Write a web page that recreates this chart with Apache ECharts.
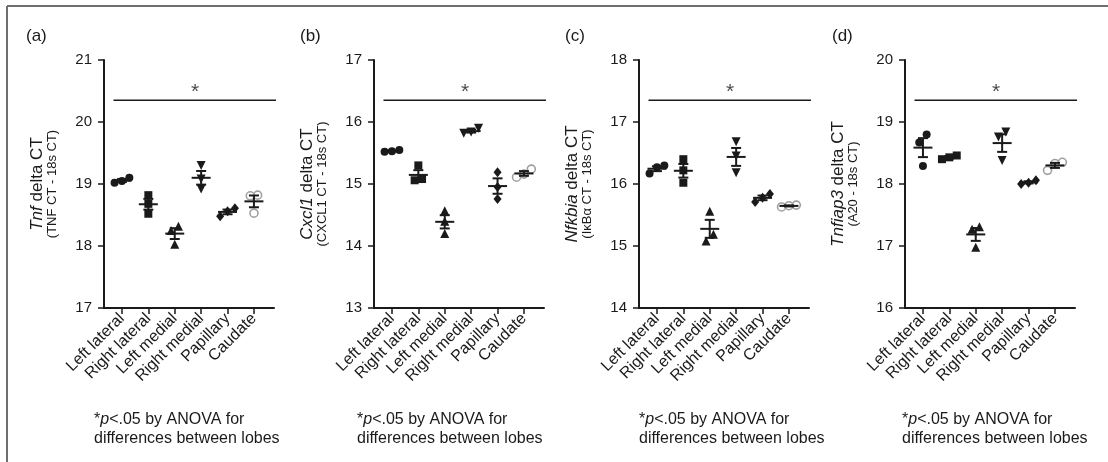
<!DOCTYPE html>
<html>
<head>
<meta charset="utf-8">
<script src="https://cdn.jsdelivr.net/npm/echarts@6/dist/echarts.min.js"></script>
<style>
html,body{margin:0;padding:0;background:#fff;}
#chart{width:1108px;height:462px;}
</style>
</head>
<body>
<div id="chart"></div>
<script>
// ---------- data ----------
const categories = ['Left lateral', 'Right lateral', 'Left medial', 'Right medial', 'Papillary', 'Caudate'];
const panelLabels = ['(a)', '(b)', '(c)', '(d)'];
const geneNames = ['Tnf', 'Cxcl1', 'Nfkbia', 'Tnfiap3'];
const subLabels = ['(TNF CT - 18s CT)', '(CXCL1 CT - 18s CT)', '(I\u03baB\u03b1 CT - 18s CT)', '(A20 - 18s CT)'];
const yMins = [17, 13, 14, 16];
const yMaxs = [21, 17, 18, 20];
const sigLevels = [20.35, 16.35, 17.35, 19.35];

const tnfValues = [
  [19.10, 19.02, 19.05],
  [18.82, 18.68, 18.52],
  [18.32, 18.25, 18.03],
  [19.30, 19.08, 18.92],
  [18.61, 18.56, 18.48],
  [18.82, 18.81, 18.53]
];
const cxcl1Values = [
  [15.55, 15.53, 15.52],
  [15.30, 15.08, 15.06],
  [14.57, 14.40, 14.20],
  [15.90, 15.84, 15.82],
  [15.19, 14.95, 14.76],
  [15.24, 15.16, 15.11]
];
const nfkbiaValues = [
  [16.30, 16.27, 16.17],
  [16.40, 16.22, 16.02],
  [15.56, 15.19, 15.08],
  [16.68, 16.45, 16.18],
  [15.84, 15.78, 15.71],
  [15.66, 15.65, 15.63]
];
const tnfaip3Values = [
  [18.80, 18.67, 18.29],
  [18.46, 18.43, 18.40],
  [17.31, 17.27, 16.98],
  [18.84, 18.76, 18.38],
  [18.06, 18.02, 18.00],
  [18.35, 18.33, 18.22]
];
const footnote = '*{i|p}<.05 by ANOVA for\ndifferences between lobes';

// ---------- layout / style ----------
const panelValues = [tnfValues, cxcl1Values, nfkbiaValues, tnfaip3Values];
const gridLefts = [104, 374, 639, 905];
const gridTop = 60, gridHeight = 248, gridWidth = 170;
const xMin = 0.32, xMax = 6.76;
const FONT = '"Liberation Sans", Arial, sans-serif';
const INK = '#1a1a1a';
const symbols = ['circle', 'rect', 'triangle', 'triangle', 'diamond', 'circle'];
const rotations = [0, 0, 0, 180, 0, 0];
const symbolSizes = [8, 8, 9, 9, [8, 10], 8];
const colors = [INK, INK, INK, INK, INK, '#a0a0a0'];

function mean(a) { return a.reduce((s, v) => s + v, 0) / a.length; }
function sem(a) {
  const m = mean(a);
  const sd = Math.sqrt(a.reduce((s, v) => s + (v - m) * (v - m), 0) / (a.length - 1));
  return sd / Math.sqrt(a.length);
}
// horizontal spreading of points that would overlap (dot-plot layout)
function spread(vals, thr, step) {
  const idx = vals.map((v, i) => i).sort((a, b) => vals[a] - vals[b]);
  const off = new Array(vals.length).fill(0);
  let group = [idx[0]];
  const flush = () => {
    const n = group.length;
    group.forEach((g, j) => { off[g] = (j - (n - 1) / 2) * step; });
  };
  for (let k = 1; k < idx.length; k++) {
    if (vals[idx[k]] - vals[idx[k - 1]] < thr) group.push(idx[k]);
    else { flush(); group = [idx[k]]; }
  }
  flush();
  return off;
}

const grids = [], xAxes = [], yAxes = [], series = [], graphics = [];

// frame
graphics.push({ type: 'line', shape: { x1: 7, y1: 6, x2: 1108, y2: 6 }, style: { stroke: '#6f6f6f', lineWidth: 2 } });
graphics.push({ type: 'line', shape: { x1: 7, y1: 6, x2: 7, y2: 462 }, style: { stroke: '#6f6f6f', lineWidth: 2 } });

const panelLabelX = [26, 300, 565, 832];
const footX = [94, 357, 639, 902];

for (let p = 0; p < 4; p++) {
  grids.push({ left: gridLefts[p], top: gridTop, width: gridWidth, height: gridHeight, containLabel: false });
  xAxes.push({
    type: 'value', gridIndex: p, min: xMin, max: xMax,
    axisLine: { show: true, onZero: false, lineStyle: { color: INK, width: 2 } },
    axisTick: { show: true, customValues: [1, 2, 3, 4, 5, 6], length: 6, lineStyle: { color: INK, width: 1.5 } },
    axisLabel: {
      show: true, customValues: [1, 2, 3, 4, 5, 6], rotate: 45, margin: 8,
      formatter: v => categories[Math.round(v) - 1] || '',
      fontSize: 16, color: INK, fontFamily: FONT
    },
    splitLine: { show: false }
  });
  yAxes.push({
    type: 'value', gridIndex: p, min: yMins[p], max: yMaxs[p], interval: 1,
    axisLine: { show: true, lineStyle: { color: INK, width: 2 } },
    axisTick: { show: true, length: 6, lineStyle: { color: INK, width: 1.5 } },
    axisLabel: { fontSize: 15, color: INK, fontFamily: FONT, margin: 12 },
    splitLine: { show: false },
    name: '{i|' + geneNames[p] + '}{m| delta CT}\n{s|' + subLabels[p] + '}',
    nameLocation: 'middle', nameRotate: 90, nameGap: 46,
    nameTextStyle: {
      color: INK, fontFamily: FONT,
      rich: {
        i: { fontStyle: 'italic', fontSize: 17, color: INK, fontFamily: FONT, lineHeight: 17 },
        m: { fontSize: 17, color: INK, fontFamily: FONT, lineHeight: 17 },
        s: { fontSize: 13, color: INK, fontFamily: FONT, lineHeight: 12 }
      }
    }
  });

  const vals = panelValues[p];
  // individual points
  for (let c = 0; c < categories.length; c++) {
    const off = spread(vals[c], 0.13, 0.28);
    series.push({
      type: 'scatter', xAxisIndex: p, yAxisIndex: p,
      symbol: symbols[c], symbolRotate: rotations[c], symbolSize: symbolSizes[c],
      itemStyle: c === 5
        ? { color: '#ffffff', borderColor: colors[c], borderWidth: 1.6, opacity: 1 }
        : { color: colors[c], opacity: 1 },
      data: vals[c].map((v, i) => [c + 1 + off[i], v]),
      z: 3, silent: true
    });
  }
  // mean +- SEM
  series.push({
    type: 'custom', xAxisIndex: p, yAxisIndex: p, z: 5, silent: true,
    data: vals.map((v, c) => [c + 1, mean(v), sem(v)]),
    renderItem: (params, api) => {
      const x = api.value(0), m = api.value(1), s = api.value(2);
      const c = api.coord([x, m]);
      const t = api.coord([x, m + s]);
      const b = api.coord([x, m - s]);
      const st = { stroke: INK, lineWidth: 2 };
      return {
        type: 'group', children: [
          { type: 'line', shape: { x1: c[0] - 9.5, y1: c[1], x2: c[0] + 9.5, y2: c[1] }, style: st },
          { type: 'line', shape: { x1: c[0], y1: t[1], x2: c[0], y2: b[1] }, style: st },
          { type: 'line', shape: { x1: c[0] - 5, y1: t[1], x2: c[0] + 5, y2: t[1] }, style: st },
          { type: 'line', shape: { x1: c[0] - 5, y1: b[1], x2: c[0] + 5, y2: b[1] }, style: st }
        ]
      };
    }
  });
  // significance bar
  series.push({
    type: 'line', xAxisIndex: p, yAxisIndex: p, symbol: 'none', silent: true, clip: false,
    lineStyle: { color: INK, width: 1.5 },
    data: [[0.68, sigLevels[p]], [6.85, sigLevels[p]]]
  });
  series.push({
    type: 'scatter', xAxisIndex: p, yAxisIndex: p, symbolSize: 0, silent: true,
    label: { show: true, position: 'top', distance: -2, formatter: '*', fontSize: 21, color: INK, fontFamily: FONT },
    data: [[3.77, sigLevels[p]]]
  });

  graphics.push({ type: 'text', left: panelLabelX[p], top: 28, style: { text: panelLabels[p], fontSize: 17, fill: INK, fontFamily: FONT } });
  graphics.push({
    type: 'text', left: footX[p], top: 410,
    style: {
      text: footnote, fontSize: 16, lineHeight: 19, fill: INK, fontFamily: FONT,
      rich: { i: { fontStyle: 'italic', fontSize: 16, fill: INK, fontFamily: FONT, lineHeight: 19 } }
    }
  });
}

const chart = echarts.init(document.getElementById('chart'), null, { renderer: 'canvas' });
chart.setOption({
  backgroundColor: '#fff',
  animation: false,
  textStyle: { fontFamily: FONT },
  grid: grids, xAxis: xAxes, yAxis: yAxes, series: series, graphic: graphics
});
</script>
</body>
</html>
